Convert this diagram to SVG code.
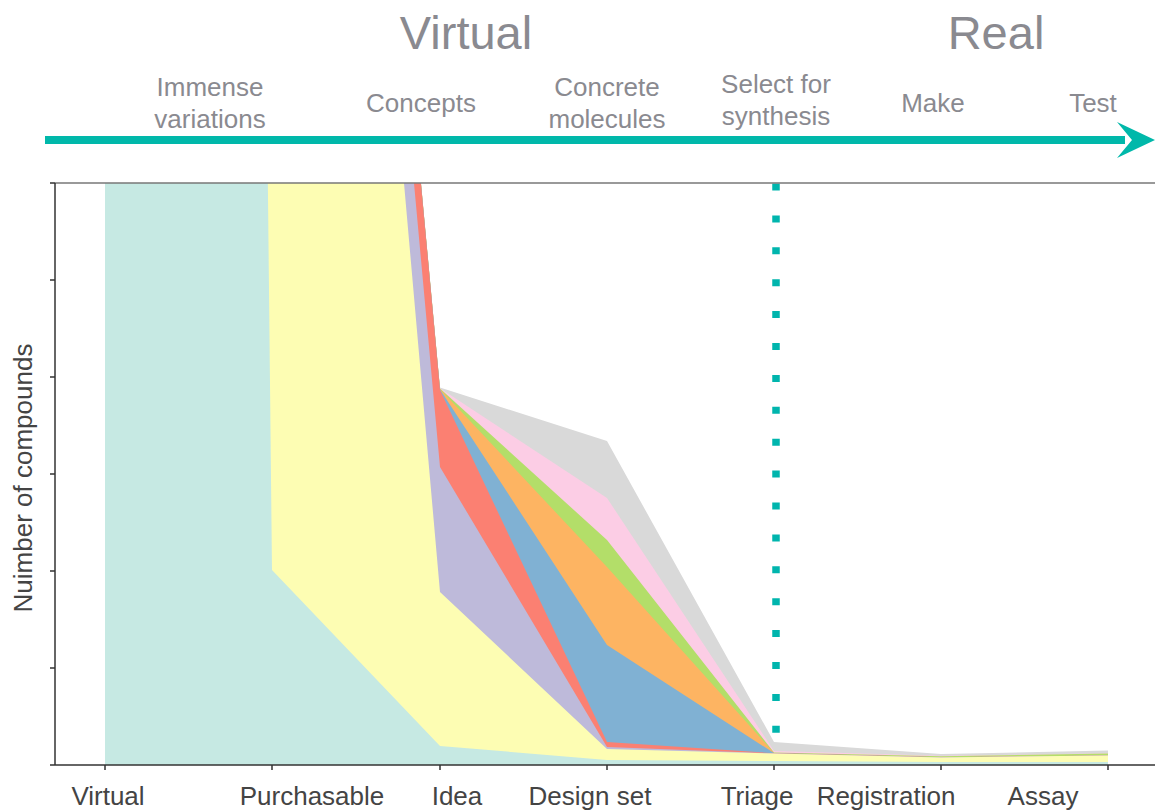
<svg xmlns="http://www.w3.org/2000/svg" width="1155" height="812" viewBox="0 0 1155 812">
<style>
.big{font-family:"Liberation Sans",Arial,sans-serif;font-size:47px;fill:#8a8a90;text-anchor:middle}
.sub{font-family:"Liberation Sans",Arial,sans-serif;font-size:26px;fill:#8a8a90;text-anchor:middle}
.lab{font-family:"Liberation Sans",Arial,sans-serif;font-size:26px;fill:#444;text-anchor:middle}
.ax{stroke:#333;stroke-width:1.5;fill:none}
</style>
<defs>
<clipPath id="plot"><rect x="55" y="183" width="1100" height="582"/></clipPath>
</defs>
<rect width="1155" height="812" fill="#fff"/>
<g id="header">
<text class="big" x="466" y="49">Virtual</text>
<text class="big" x="996" y="49">Real</text>
<text class="sub" x="210" y="96">Immense</text>
<text class="sub" x="210" y="128">variations</text>
<text class="sub" x="421" y="112">Concepts</text>
<text class="sub" x="607" y="96">Concrete</text>
<text class="sub" x="607" y="128">molecules</text>
<text class="sub" x="776" y="93">Select for</text>
<text class="sub" x="776" y="125">synthesis</text>
<text class="sub" x="933" y="112">Make</text>
<text class="sub" x="1093" y="112">Test</text>
</g>
<g id="timeline-arrow">
<rect x="45" y="136" width="1080" height="8" fill="#00b8aa"/>
<polygon points="1117,122 1155,140 1117,158 1132,140" fill="#00b8aa"/>
</g>
<g id="areas" clip-path="url(#plot)">
<polygon id="layer-gray" fill="#d9d9d9" points="105,765 105,-15000 272,-1424 440,387.5 607,441 774,742 941,754 1108,750.5 1108,765"/>
<polygon id="layer-pink" fill="#fccde5" points="105,765 105,-15000 272,-1424 440,388.3 607,498 774,751 941,755.8 1108,753.3 1108,765"/>
<polygon id="layer-green" fill="#b3de69" points="105,765 105,-15000 272,-1424 440,388.6 607,540 774,752.5 941,756.2 1108,753.5 1108,765"/>
<polygon id="layer-orange" fill="#fdb462" points="105,765 105,-15000 272,-1424 440,389 607,567 774,752.9 941,757.3 1108,755.4 1108,765"/>
<polygon id="layer-blue" fill="#80b1d3" points="105,765 105,-15000 272,-1424 440,389.5 607,645 774,753.1 941,757.3 1108,755.4 1108,765"/>
<polygon id="layer-red" fill="#fb8072" points="105,765 105,-15000 272,-1424 440,390 607,742 774,753.3 941,757.3 1108,755.4 1108,765"/>
<polygon id="layer-purple" fill="#bebada" points="105,765 105,-15000 272,-1367 440,467 607,747 774,753.4 941,757.3 1108,755.4 1108,765"/>
<polygon id="layer-yellow" fill="#fdfdb3" points="105,765 105,-15000 272,-1316 440,592 607,749 774,753.5 941,757.4 1108,755.5 1108,765"/>
<polygon id="layer-teal" fill="#c6e9e3" points="105,765 105,-15000 272,570 440,746 607,760 774,761 941,762 1108,762 1108,765"/>
</g>
<g id="triage-divider">
<line x1="776" y1="183.5" x2="776" y2="733" stroke="#00b5ad" stroke-width="7.5" stroke-dasharray="7 24.9"/>
</g>
<g id="axes">
<line x1="55" y1="183" x2="1155" y2="183" stroke="#777" stroke-width="1.5"/>
<line class="ax" x1="55" y1="183" x2="55" y2="765"/>
<line class="ax" x1="55" y1="765" x2="1155" y2="765"/>
<path class="ax" d="M50 183H55M50 280H55M50 377H55M50 474H55M50 571H55M50 668H55M50 765H55"/>
<path class="ax" d="M105 765V770M272 765V770M440 765V770M607 765V770M774 765V770M941 765V770M1108 765V770"/>
</g>
<g id="axis-labels">
<text class="lab" transform="translate(32,478) rotate(-90)">Nuimber of compounds</text>
<text class="lab" x="108" y="805">Virtual</text>
<text class="lab" x="312" y="805">Purchasable</text>
<text class="lab" x="457" y="805">Idea</text>
<text class="lab" x="590" y="805">Design set</text>
<text class="lab" x="757" y="805">Triage</text>
<text class="lab" x="886" y="805">Registration</text>
<text class="lab" x="1043" y="805">Assay</text>
</g>
</svg>
